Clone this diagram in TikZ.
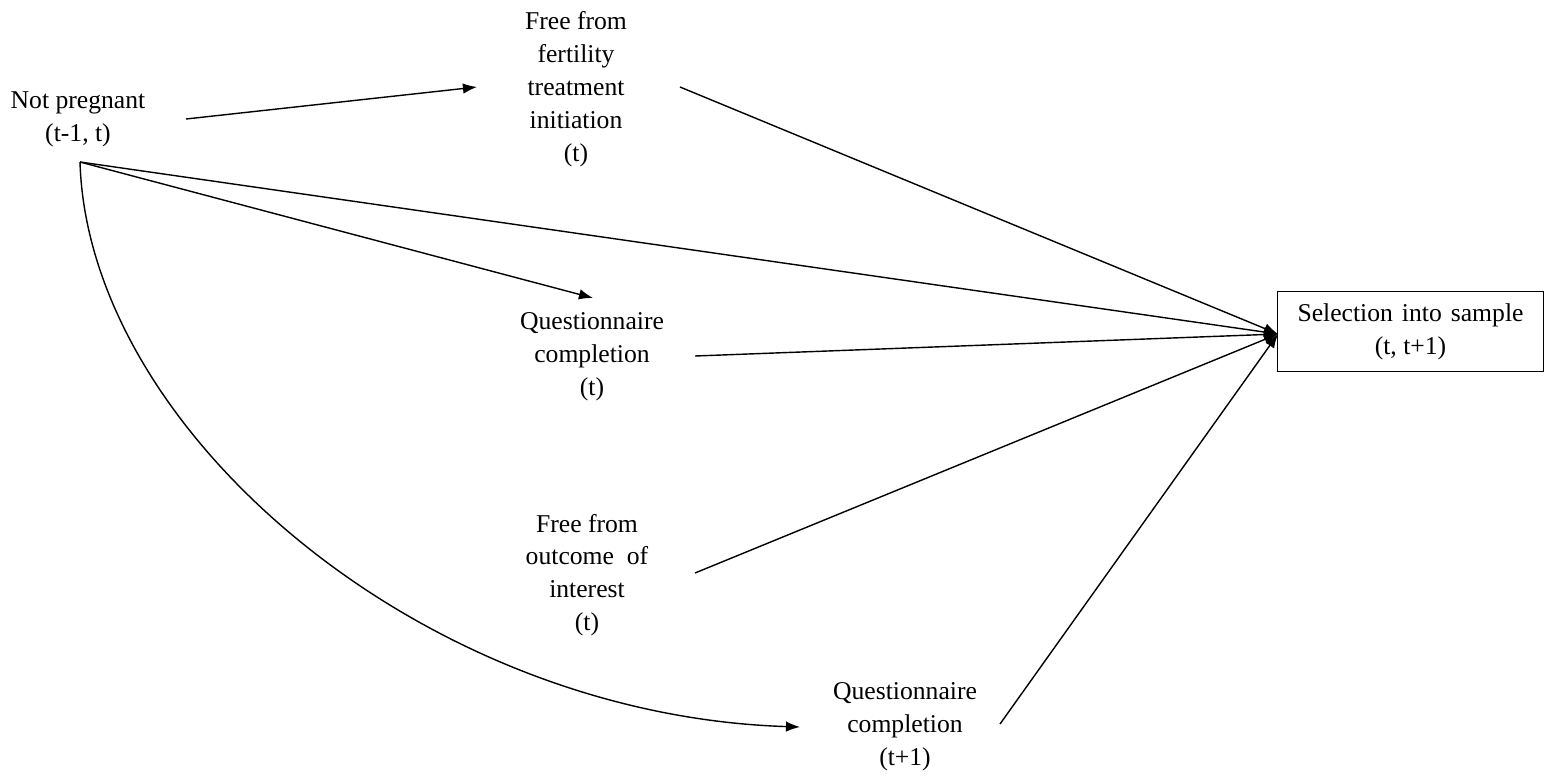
\documentclass[tikz,border=0pt]{standalone}
\usepackage{fontspec}
\setmainfont{Liberation Serif}
\usetikzlibrary{arrows.meta}
\begin{document}
\begin{tikzpicture}[x=0.02cm,y=-0.02cm,
  lbl/.style={align=center,inner sep=0pt,font=\fontsize{14.6}{18.7}\selectfont},
  conn/.style={line width=0.8pt,-{Latex[length=8pt,width=6pt]}}]
\useasboundingbox (0,0) rectangle (1544,778);

% text nodes
\node[lbl] (np)  at (78,119)  {Not pregnant\\(t-1, t)};
\node[lbl] (fft) at (576,89)  {Free from\\fertility\\treatment\\initiation\\(t)};
\node[lbl] (qc)  at (592,357) {Questionnaire\\completion\\(t)};
\node[lbl] (foi) at (587,575) {Free from\\outcome\ \ of\\interest\\(t)};
\node[lbl] (qc1) at (905,727) {Questionnaire\\completion\\(t+1)};
\node[lbl,draw,line width=0.8pt,minimum width=266*0.02cm,minimum height=80*0.02cm]
  (sel) at (1410.5,331.5) {Selection\hspace{0.35em}into\hspace{0.35em}sample\\(t, t+1)};

% connector end points
\coordinate (np-r)   at (186,119);
\coordinate (np-b)   at (80,162);
\coordinate (fft-in) at (477,87);
\coordinate (fft-r)  at (680,87);
\coordinate (qc-in)  at (593,298);
\coordinate (qc-r)   at (695,356);
\coordinate (foi-r)  at (695,573);
\coordinate (qc1-in) at (800,727);
\coordinate (qc1-r)  at (1000,724);
\coordinate (sel-in) at (1278,334);

% arrows
\draw[conn] (np-r) -- (fft-in);
\draw[conn] (np-b) -- (qc-in);
\draw[conn] (np-b) .. controls (88,430) and (420,715) .. (qc1-in);
\draw[conn] (np-b) -- (sel-in);
\draw[conn] (fft-r) -- (sel-in);
\draw[conn] (qc-r) -- (sel-in);
\draw[conn] (foi-r) -- (sel-in);
\draw[conn] (qc1-r) -- (sel-in);
\end{tikzpicture}
\end{document}
